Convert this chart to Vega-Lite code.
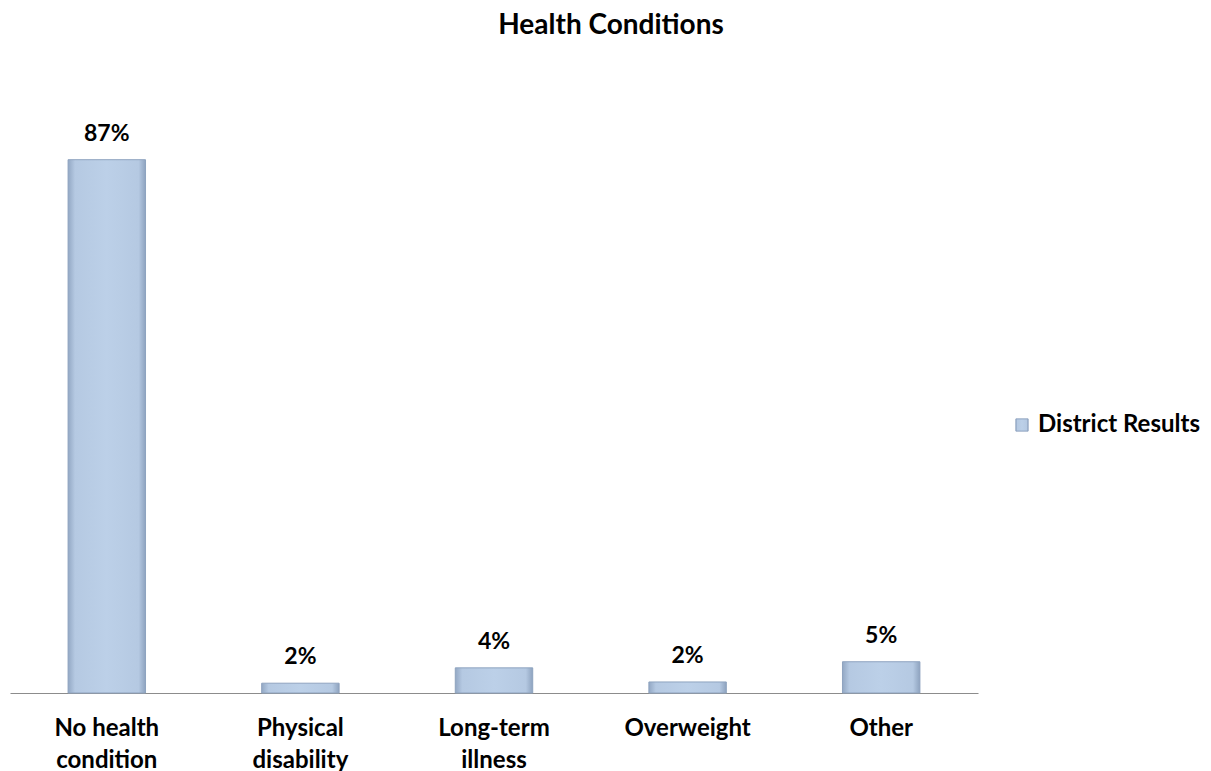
{
  "$schema": "https://vega.github.io/schema/vega-lite/v6.json",
  "autosize": "none",
  "width": 968,
  "height": 613,
  "padding": {"left": 10, "top": 80, "right": 233, "bottom": 78},
  "background": "white",
  "view": {"stroke": null},
  "title": {
    "text": "Health Conditions",
    "font": "Lato",
    "fontSize": 28,
    "fontWeight": "bold",
    "color": "#000000",
    "anchor": "middle",
    "dx": 117,
    "offset": 40
  },
  "data": {
    "values": [
      {"category": "No health condition", "value": 0.87, "series": "District Results"},
      {"category": "Physical disability", "value": 0.016, "series": "District Results"},
      {"category": "Long-term illness", "value": 0.041, "series": "District Results"},
      {"category": "Overweight", "value": 0.018, "series": "District Results"},
      {"category": "Other", "value": 0.051, "series": "District Results"}
    ]
  },
  "encoding": {
    "x": {
      "field": "category",
      "type": "nominal",
      "sort": null,
      "scale": {"paddingInner": 0.6, "paddingOuter": 0.3},
      "axis": {
        "title": null,
        "labelAngle": 0,
        "labelFont": "Lato",
        "labelFontSize": 24,
        "labelFontWeight": "bold",
        "labelColor": "#000000",
        "labelPadding": 23,
        "labelLineHeight": 32,
        "labelExpr": "indexof(datum.label, ' ') > 0 ? [substring(datum.label, 0, lastindexof(datum.label, ' ')), substring(datum.label, lastindexof(datum.label, ' ') + 1)] : datum.label",
        "ticks": false,
        "domainColor": "#8c8c8c",
        "domainWidth": 1.2
      }
    },
    "y": {
      "field": "value",
      "type": "quantitative",
      "scale": {"domain": [0, 1], "nice": false},
      "axis": null
    }
  },
  "layer": [
    {
      "mark": {
        "type": "bar",
        "fill": {
          "gradient": "linear",
          "x1": 0, "y1": 0, "x2": 1, "y2": 0,
          "stops": [
            {"offset": 0, "color": "#93a8c4"},
            {"offset": 0.09, "color": "#b5c9e2"},
            {"offset": 0.5, "color": "#bcd0e8"},
            {"offset": 0.91, "color": "#b5c9e2"},
            {"offset": 1, "color": "#8ea3bf"}
          ]
        },
        "strokeWidth": 1
      },
      "encoding": {
        "stroke": {
          "field": "series",
          "type": "nominal",
          "scale": {"range": ["#8ea3bf"]},
          "legend": {
            "title": null,
            "orient": "none",
            "legendX": 1000,
            "legendY": 333,
            "symbolType": "square",
            "symbolSize": 150,
            "symbolFillColor": "#b9cde5",
            "symbolStrokeWidth": 1,
            "labelFont": "Lato",
            "labelFontSize": 24,
            "labelFontWeight": "bold",
            "labelColor": "#000000",
            "labelOffset": 4,
            "labelLimit": 300
          }
        }
      }
    },
    {
      "mark": {
        "type": "text",
        "dy": -26,
        "font": "Lato",
        "fontSize": 23,
        "fontWeight": "bold",
        "color": "#000000"
      },
      "encoding": {
        "text": {"field": "value", "type": "quantitative", "format": ".0%"}
      }
    }
  ]
}
